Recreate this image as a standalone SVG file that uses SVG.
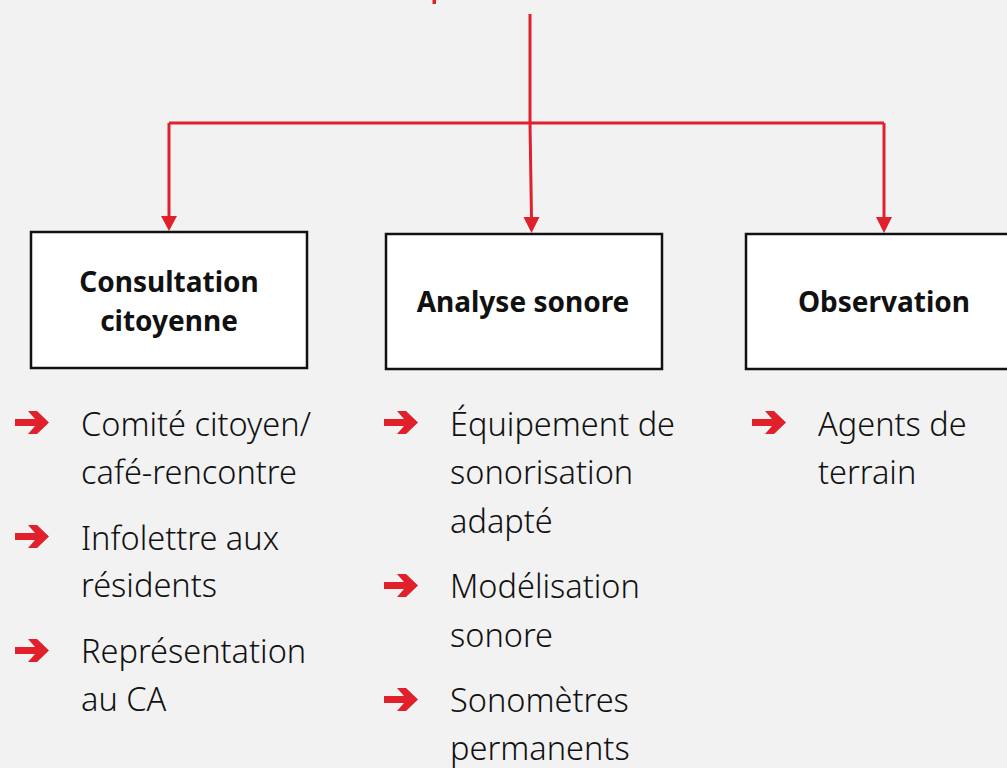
<svg xmlns="http://www.w3.org/2000/svg" width="1007" height="768" viewBox="0 0 1007 768">
<style>
.box{fill:#fff;stroke:#111;stroke-width:2.5}
.title{font-family:"Noto Sans","DejaVu Sans",sans-serif;font-weight:bold;font-size:28px;fill:#111;text-anchor:middle}
.item{font-family:"Noto Sans","DejaVu Sans",sans-serif;font-weight:300;font-size:32.5px;fill:#111}
.conn{fill:none;stroke:#e0202a;stroke-width:3}
.bul{fill:#e0202a}
</style>
<defs>
<polygon id="arr" points="0,8 20,8 13,0 22,0 34,11.5 22,23 13,23 20,15 0,15"/>
</defs>
<rect width="1007" height="768" fill="#f2f2f2"/>
<rect x="432.5" y="0" width="3.5" height="4" fill="#e0202a"/>
<g id="connectors">
<path class="conn" d="M530,14 V123"/>
<path class="conn" d="M169,123 H884"/>
<path d="M169,123 V218" class="conn"/>
<polygon points="161,216 177,216 169,231" fill="#e0202a"/>
<path d="M530,123 L531.5,219" class="conn"/>
<polygon points="523.5,217 539.5,217 531.5,233" fill="#e0202a"/>
<path d="M884,123 V219" class="conn"/>
<polygon points="876,217 892,217 884,233" fill="#e0202a"/>
</g>
<g id="node-consultation">
<rect class="box" x="31" y="232" width="276" height="136"/>
<text class="title" x="169" y="292">Consultation</text>
<text class="title" x="169" y="331">citoyenne</text>
</g>
<g id="node-analyse">
<rect class="box" x="386" y="234" width="276" height="135"/>
<text class="title" x="523" y="312">Analyse sonore</text>
</g>
<g id="node-observation">
<rect class="box" x="746" y="234" width="270" height="135"/>
<text class="title" x="884" y="312">Observation</text>
</g>
<g id="list-consultation">
<use href="#arr" class="bul" x="15" y="411"/>
<text class="item" x="81" y="436">Comité citoyen/</text>
<text class="item" x="81" y="484">café-rencontre</text>
<use href="#arr" class="bul" x="15" y="525"/>
<text class="item" x="81" y="550">Infolettre aux</text>
<text class="item" x="81" y="597">résidents</text>
<use href="#arr" class="bul" x="15" y="639"/>
<text class="item" x="81" y="663">Représentation</text>
<text class="item" x="81" y="711">au CA</text>
</g>
<g id="list-analyse">
<use href="#arr" class="bul" x="384" y="411"/>
<text class="item" x="450" y="436">Équipement de</text>
<text class="item" x="450" y="484">sonorisation</text>
<text class="item" x="450" y="533">adapté</text>
<use href="#arr" class="bul" x="384" y="574"/>
<text class="item" x="450" y="598">Modélisation</text>
<text class="item" x="450" y="647">sonore</text>
<use href="#arr" class="bul" x="384" y="688"/>
<text class="item" x="450" y="712">Sonomètres</text>
<text class="item" x="450" y="760">permanents</text>
</g>
<g id="list-observation">
<use href="#arr" class="bul" x="752" y="411"/>
<text class="item" x="818" y="436">Agents de</text>
<text class="item" x="818" y="484">terrain</text>
</g>
</svg>
